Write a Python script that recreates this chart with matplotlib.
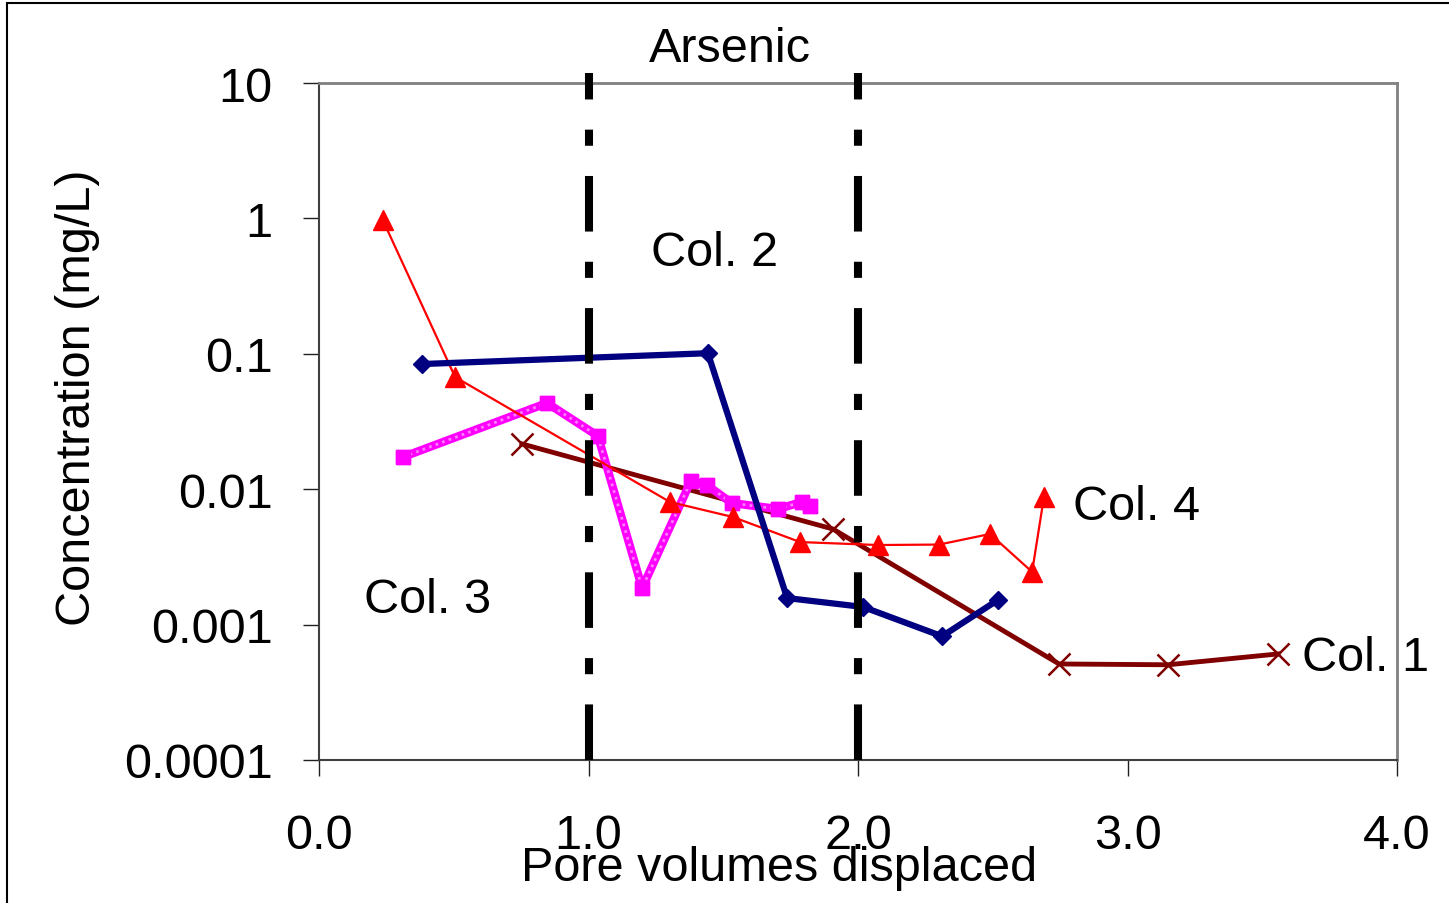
import numpy as np
import matplotlib.pyplot as plt
from matplotlib.patches import Rectangle

plt.rcParams['font.family'] = ['Liberation Sans', 'DejaVu Sans']

# Col. 1 (dark red, x markers)
col1_x = [0.753, 1.907, 2.746, 3.150, 3.558]
col1_y = [0.0216, 0.00508, 0.000512, 0.000505, 0.000607]

# Col. 2 (navy, diamonds)
col2_x = [0.382, 1.443, 1.737, 2.019, 2.312, 2.519]
col2_y = [0.084, 0.101, 0.00157, 0.00135, 0.00082, 0.00152]

# Col. 3 (magenta, squares)
col3_x = [0.312, 0.846, 1.035, 1.199, 1.380, 1.440, 1.532, 1.703, 1.792, 1.822]
col3_y = [0.0173, 0.0433, 0.0247, 0.00186, 0.0115, 0.0107, 0.0079, 0.00714, 0.00805, 0.0075]

# Col. 4 (red, triangles)
col4_x = [0.237, 0.505, 1.302, 1.536, 1.785, 2.074, 2.301, 2.490, 2.646, 2.690]
col4_y = [0.97, 0.0674, 0.00805, 0.00623, 0.00407, 0.00387, 0.0039, 0.00467, 0.00245, 0.00876]

# vertical markers at 1 and 2 pore volumes
vlines_x = [1.0, 2.0]
vline_y = [0.0001, 11.9]

xticks = [0.0, 1.0, 2.0, 3.0, 4.0]
yticks = [0.0001, 0.001, 0.01, 0.1, 1, 10]
ytick_labels = ['0.0001', '0.001', '0.01', '0.1', '1', '10']

FS = 35

fig = plt.figure(figsize=(14.49, 9.04), dpi=100)
ax = fig.add_axes([319/1449, 1-761/904, 1078/1449, 677/904])

ax.plot(col1_x, col1_y, color='#800000', lw=3.5, marker='x', ms=16, mew=1.8, zorder=3)
ax.plot(col3_x, col3_y, color='#ff00ff', lw=6, marker='s', ms=10.5, zorder=4)
ax.plot(col3_x, col3_y, color='#ff7fff', lw=2, ls=(0, (1, 1.5)), zorder=4.1)
ax.plot(col3_x, col3_y, color='#ff00ff', lw=0, marker='s', ms=10.5, zorder=4.2)
ax.plot(col4_x, col4_y, color='#ff0000', lw=1.6, marker='^', ms=14, zorder=5)
ax.plot(col2_x, col2_y, color='#000080', lw=4.5, marker='D', ms=9, zorder=6)

for xv in vlines_x:
    ax.plot([xv, xv], vline_y, color='black', lw=5.8, dashes=(6.9, 3.75, 2.0, 3.75),
            solid_capstyle='butt', clip_on=False, zorder=7)

ax.set_yscale('log')
ax.set_xlim(0, 4)
ax.set_ylim(0.0001, 10)
ax.set_xticks(xticks)
ax.set_xticklabels(['%.1f' % v for v in xticks])
ax.set_yticks(yticks)
ax.set_yticklabels(ytick_labels)
ax.minorticks_off()
ax.tick_params(axis='both', direction='out', length=11.5, width=1, labelsize=FS, color='#202020')
ax.tick_params(axis='x', pad=27)
ax.tick_params(axis='y', pad=22)

for s in ['top', 'right']:
    ax.spines[s].set_color('#808080')
    ax.spines[s].set_linewidth(2)
for s in ['left', 'bottom']:
    ax.spines[s].set_color('#404040')
    ax.spines[s].set_linewidth(1.5)

ax.text(1.525, 1 + (84-49)/677, 'Arsenic', fontsize=FS, ha='center', va='center',
        transform=ax.get_xaxis_transform())
ax.text(1.468, 0.56, 'Col. 2', fontsize=FS, ha='center', va='center')
ax.text(0.401, 0.00152, 'Col. 3', fontsize=FS, ha='center', va='center')
ax.text(3.032, 0.0075, 'Col. 4', fontsize=FS, ha='center', va='center')
ax.text(3.885, 0.000567, 'Col. 1', fontsize=FS, ha='center', va='center', clip_on=False)

ax.text(0.4267, -0.159, 'Pore volumes displaced', fontsize=FS, ha='center', va='center',
        transform=ax.transAxes)
ax.text(-0.2236, 0.536, 'Concentration (mg/L)', fontsize=FS, rotation=90,
        ha='center', va='center', transform=ax.transAxes)

fig.patches.append(Rectangle((7/1449, -0.1), 1.2, 1.1 - 4/904, transform=fig.transFigure,
                             fill=False, edgecolor='black', lw=1.5, clip_on=False))

fig.savefig('out.png', dpi=100)
